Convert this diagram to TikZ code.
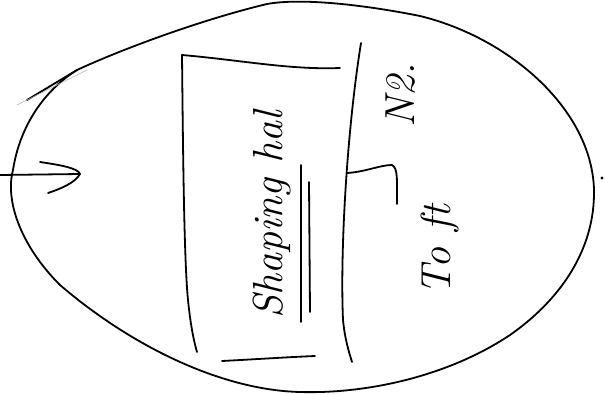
\documentclass[tikz,border=0pt]{standalone}
\usepackage{tikz}
\usetikzlibrary{calc,positioning}
\tikzset{
  pen/.style={line width=1.8pt, line cap=round, line join=round, black},
  faint/.style={line width=0.6pt, black!30},
  note/.style={font=\fontsize{42}{46}\selectfont\itshape, inner sep=0pt}
}

\begin{document}
\begin{tikzpicture}[x=1pt,y=-1pt]
  \useasboundingbox (0,0) rectangle (605,394);
  \coordinate (corner) at (77,70);
  \draw[pen] (corner) .. controls (120,50) and (200,20) .. (267,4) .. controls (300,-2) and (360,4) .. (420,16)
    .. controls (510,38) and (592,110) .. (594,190) .. controls (595,250) and (560,300) .. (510,335)
    .. controls (450,375) and (370,394) .. (300,392) .. controls (220,390) and (130,345) .. (60,285)
    .. controls (20,245) and (5,200) .. (13,170) .. controls (20,125) and (45,90) .. (corner);
  \draw[pen] (corner)--(27,100);
  \draw[faint] (17,105)--(87,70);
  \coordinate (in) at (0,175);
  \coordinate (tip) at (80,174);
  \draw[pen] (in)--(tip);
  \draw[pen] (40,162) .. controls (60,165) and (78,168) .. (tip) .. controls (75,183) and (60,189) .. (48,193);
  \draw[pen] (182,55) .. controls (240,60) and (290,70) .. (340,68);
  \draw[pen] (182,55) .. controls (183,150) and (184,260) .. (188,300) .. controls (191,330) and (195,345) .. (197,352);
  \draw[pen] (222,361) .. controls (260,359) and (290,357) .. (315,356);
  \draw[pen] (361,43) .. controls (347,130) and (340,250) .. (343,320) .. controls (345,340) and (349,352) .. (352,362);
  \coordinate (brk) at (347,173);
  \draw[pen] (brk) .. controls (365,172) and (380,165) .. (392,165) .. controls (398,168) and (397,180) .. (397,204);
  \node[note,rotate=90] (shaping) at (272,215) {Shaping hal};
  \draw[pen] (301,165)--(301,322);
  \draw[pen] (309,182)--(310,312);
  \node[note,rotate=90] (nr) at (401,95) {N2.};
  \node[note,rotate=90] (toft) at (440,250) {To\hspace{0.4em}ft};
  \fill (602,178) circle (1.6);
\end{tikzpicture}
\end{document}
